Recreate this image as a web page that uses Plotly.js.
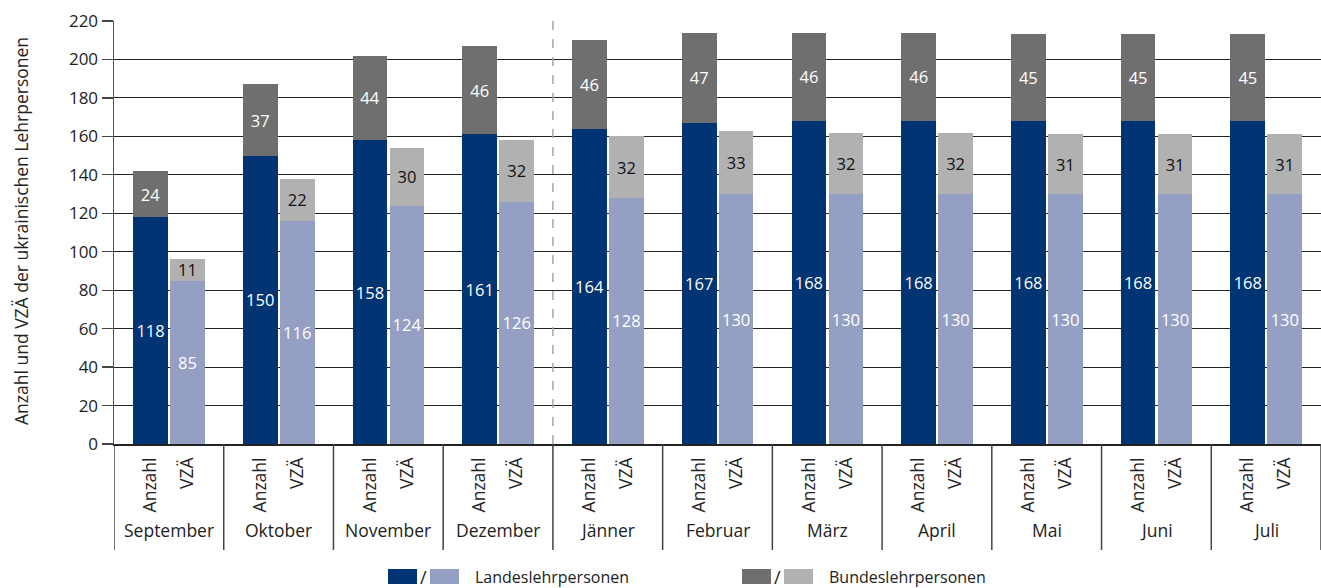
<!DOCTYPE html>
<html><head><meta charset="utf-8">
<script src="https://cdn.plot.ly/plotly-3.0.1.min.js"></script>
<style>html,body{margin:0;padding:0;background:#fff}#chart{width:1321px;height:588px}</style>
</head><body><div id="chart"></div>
<script>
const months = ["September","Oktober","November","Dezember","Jänner","Februar","März","April","Mai","Juni","Juli"];
const measures = ["Anzahl","VZÄ"];
const landesAnzahl = [118,150,158,161,164,167,168,168,168,168,168];
const bundesAnzahl = [24,37,44,46,46,47,46,46,45,45,45];
const landesVZA = [85,116,124,126,128,130,130,130,130,130,130];
const bundesVZA = [11,22,30,32,32,33,32,32,31,31,31];
const yTicks = [0,20,40,60,80,100,120,140,160,180,200,220];
const legendLabels = ["Landeslehrpersonen","Bundeslehrpersonen"];
const yTitle = "Anzahl und VZÄ der ukrainischen Lehrpersonen";

const C = {landesA:'#003473', landesV:'#959fc4', bundesA:'#6f6f6f', bundesV:'#b1b1b1'};
const FONT = '"Open Sans", Lato, sans-serif';
const SUB_POS = [0.333, 0.670];   // bar centre within a month slot
const BAR_W = 0.316;

const xPos = [], yL = [], yB = [], colL = [], colB = [], txtColB = [];
months.forEach((m, i) => {
  measures.forEach((s, j) => {
    xPos.push(i + SUB_POS[j]);
    yL.push(j === 0 ? landesAnzahl[i] : landesVZA[i]);
    yB.push(j === 0 ? bundesAnzahl[i] : bundesVZA[i]);
    colL.push(j === 0 ? C.landesA : C.landesV);
    colB.push(j === 0 ? C.bundesA : C.bundesV);
    txtColB.push(j === 0 ? '#ffffff' : '#111111');
  });
});
const tickText = [];
months.forEach(() => measures.forEach(s => tickText.push(s)));

const common = {
  type: 'bar', x: xPos, width: BAR_W,
  textposition: 'inside', insidetextanchor: 'middle', textangle: 0,
  constraintext: 'none', hoverinfo: 'skip', showlegend: false
};
const traces = [
  Object.assign({}, common, {name: legendLabels[0], y: yL, text: yL.map(String),
    marker: {color: colL, line: {width: 0}}, textfont: {family: FONT, size: 16.5, color: '#ffffff'}}),
  Object.assign({}, common, {name: legendLabels[1], y: yB, text: yB.map(String),
    marker: {color: colB, line: {width: 0}}, textfont: {family: FONT, size: 16.5, color: txtColB}})
];

const L = 114, R = 1321, T = 21, B = 444;
const px = v => (v - L) / (R - L);
const py = v => (B - v) / (B - T);

const shapes = [
  {type: 'line', xref: 'x', yref: 'paper', x0: 4, x1: 4, y0: 0, y1: 1,
   line: {color: '#a8a8a8', width: 1.5, dash: 'dash'}}
];
for (let i = 0; i <= months.length; i++) {
  shapes.push({type: 'line', xref: 'x', yref: 'paper', x0: i, x1: i, y0: 0, y1: py(550),
    line: {color: '#444', width: 1.5}});
}
const annotations = months.map((m, i) => ({
  xref: 'x', yref: 'paper', x: i + 0.5, y: py(530), text: m, showarrow: false,
  xanchor: 'center', yanchor: 'middle', font: {family: FONT, size: 17.5, color: '#222'}
}));
annotations.push({xref: 'paper', yref: 'paper', x: px(21), y: py(231), text: yTitle, textangle: -90,
  showarrow: false, xanchor: 'center', yanchor: 'middle', font: {family: FONT, size: 17.5, color: '#222'}});

const legendItems = [
  {start: 388, c1: C.landesA, c2: C.landesV, label: legendLabels[0]},
  {start: 742, c1: C.bundesA, c2: C.bundesV, label: legendLabels[1]}
];
legendItems.forEach(it => {
  shapes.push({type: 'rect', xref: 'paper', yref: 'paper', x0: px(it.start), x1: px(it.start + 29),
    y0: py(584), y1: py(569), fillcolor: it.c1, line: {width: 0}});
  shapes.push({type: 'rect', xref: 'paper', yref: 'paper', x0: px(it.start + 42), x1: px(it.start + 71),
    y0: py(584), y1: py(569), fillcolor: it.c2, line: {width: 0}});
  annotations.push({xref: 'paper', yref: 'paper', x: px(it.start + 35.5), y: py(577), text: '/',
    showarrow: false, xanchor: 'center', yanchor: 'middle', font: {family: FONT, size: 18, color: '#222'}});
  annotations.push({xref: 'paper', yref: 'paper', x: px(it.start + 85), y: py(577), text: it.label,
    showarrow: false, xanchor: 'left', yanchor: 'middle', font: {family: FONT, size: 16, color: '#222'}});
});

const layout = {
  width: 1321, height: 588,
  margin: {l: L, r: 1321 - R, t: T, b: 588 - B, pad: 0},
  paper_bgcolor: '#fff', plot_bgcolor: '#fff',
  barmode: 'stack',
  font: {family: FONT, size: 16, color: '#222'},
  xaxis: {
    range: [0, months.length], tickvals: xPos, ticktext: tickText, tickangle: -90,
    showline: true, linecolor: '#222', linewidth: 1.5, zeroline: false,
    ticks: 'outside', ticklen: 5, tickcolor: 'rgba(0,0,0,0)',
    showgrid: false, tickfont: {family: FONT, size: 17.5, color: '#222'}, fixedrange: true
  },
  yaxis: {
    range: [0, 220], tickvals: yTicks, ticktext: yTicks.map(String),
    showgrid: true, gridcolor: '#222', gridwidth: 1, zeroline: false,
    showline: true, linecolor: '#555', linewidth: 1.5,
    ticks: 'outside', ticklen: 11, tickcolor: '#444', tickwidth: 1.2,
    tickfont: {family: FONT, size: 17, color: '#222'}, fixedrange: true
  },
  shapes: shapes, annotations: annotations
};

Plotly.newPlot('chart', traces, layout, {displayModeBar: false, staticPlot: true});
</script>
</body></html>
